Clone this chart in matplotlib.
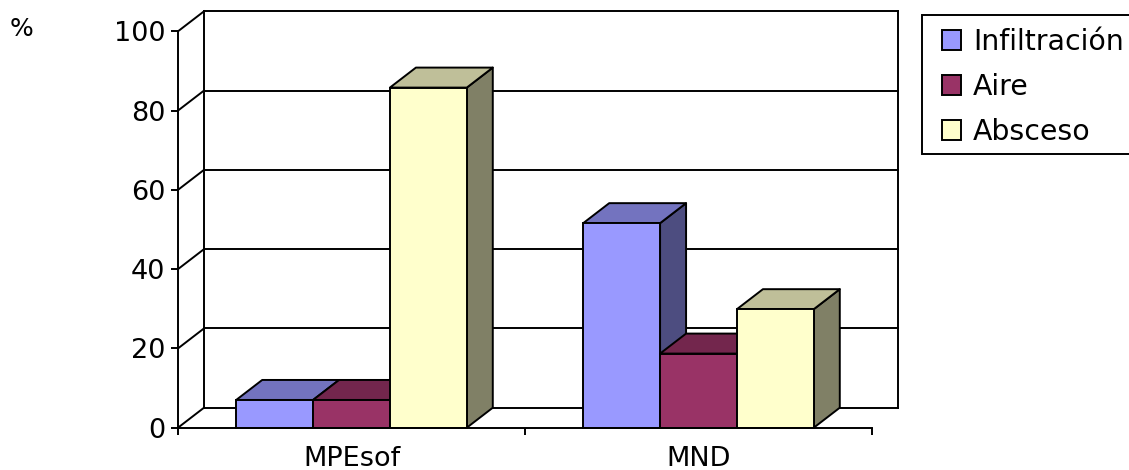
import matplotlib
matplotlib.use('Agg')
import matplotlib.pyplot as plt
from matplotlib.patches import Patch, Polygon, Rectangle

categories = ['MPEsof', 'MND']
series_names = ['Infiltración', 'Aire', 'Absceso']
infiltracion = [7, 51.6]
aire = [7, 18.7]
absceso = [85.8, 29.9]
y_ticks = [0, 20, 40, 60, 80, 100]

front_colors = ['#9999FF', '#993366', '#FFFFCC']
top_colors = ['#7373BF', '#73264D', '#BFBF99']
side_colors = ['#4D4D80', '#4D1A33', '#808066']

W, H = 1129, 470
LW = 1.4

fig = plt.figure(figsize=(W / 100, H / 100), dpi=100, facecolor='white')
ax = fig.add_axes([178 / W, (H - 427.7) / H, 694 / W, 396.4 / H])
ax.set_xlim(0, 2)
ax.set_ylim(0, 100)
ax.patch.set_visible(False)

# depth of the fake 3d box, in data units
dx = 26 / 347
dy = 20 / 3.964
bar_w = 0.2215


def line(xs, ys):
    ax.plot(xs, ys, color='black', lw=LW, clip_on=False, zorder=1,
            solid_capstyle='projecting')


# back wall and left wall
for y in y_ticks:
    line([dx, 2 + dx], [y + dy, y + dy])
    line([0, dx], [y, y + dy])
line([dx, dx], [dy, 100 + dy])
line([2 + dx, 2 + dx], [dy, 100 + dy])

z = 2
all_values = [infiltracion, aire, absceso]
for c in range(len(categories)):
    left = c + 0.5 - 1.5 * bar_w
    for s, values in enumerate(all_values):
        v = values[c]
        x0 = left + s * bar_w
        x1 = x0 + bar_w
        side = [(x1, 0), (x1 + dx, dy), (x1 + dx, v + dy), (x1, v)]
        top = [(x0, v), (x1, v), (x1 + dx, v + dy), (x0 + dx, v + dy)]
        ax.add_patch(Polygon(side, fc=side_colors[s], ec='black', lw=LW,
                             clip_on=False, zorder=z, joinstyle='round'))
        ax.add_patch(Polygon(top, fc=top_colors[s], ec='black', lw=LW,
                             clip_on=False, zorder=z, joinstyle='round'))
        ax.bar(x0, v, width=bar_w, align='edge', color=front_colors[s],
               edgecolor='black', linewidth=LW, clip_on=False, zorder=z)
        z += 1

for name in ['top', 'right']:
    ax.spines[name].set_visible(False)
for name in ['left', 'bottom']:
    ax.spines[name].set_linewidth(LW)
    ax.spines[name].set_zorder(50)

ax.set_yticks(y_ticks)
ax.set_yticklabels([str(y) for y in y_ticks], fontsize=19.5)
ax.tick_params(axis='y', length=5, width=LW, pad=4)

# ticks sit between the categories, labels under the centres
ax.set_xticks([0, 1, 2])
ax.set_xticklabels([])
ax.set_xticks([0.5, 1.5], minor=True)
ax.set_xticklabels(categories, minor=True, fontsize=19.5)
ax.tick_params(axis='x', which='major', length=5, width=LW)
ax.tick_params(axis='x', which='minor', length=0, pad=13)

fig.text(10 / W, (H - 29) / H, '%', fontsize=18, ha='left', va='center')

# legend box runs off the right edge of the figure
fig.add_artist(Rectangle((922 / W, (H - 154) / H), 300 / W, 139 / H,
                         transform=fig.transFigure, fc='white', ec='black',
                         lw=LW, zorder=-1))
handles = [Patch(fc=front_colors[i], ec='black', lw=LW) for i in range(3)]
leg = ax.legend(handles, series_names, loc='upper left',
                bbox_to_anchor=(942 / W, (H - 28) / H),
                bbox_transform=fig.transFigure, fontsize=20.4, frameon=False,
                borderpad=0, borderaxespad=0, labelspacing=0.6,
                handlelength=0.67, handleheight=0.67, handletextpad=0.42)

fig.savefig('out.png', dpi=100, facecolor='white')
